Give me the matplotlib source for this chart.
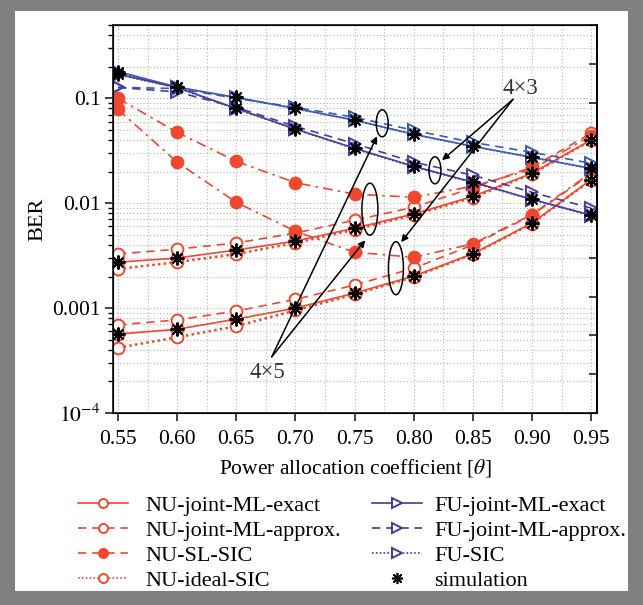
import numpy as np
import matplotlib
matplotlib.use("Agg")
import matplotlib.pyplot as plt
from matplotlib.patches import Rectangle, Ellipse
from matplotlib.lines import Line2D
from matplotlib.ticker import NullFormatter, MultipleLocator, LogLocator
from matplotlib.transforms import ScaledTranslation

plt.rcParams['font.family'] = ['Liberation Serif', 'DejaVu Serif']
plt.rcParams['mathtext.fontset'] = 'stix'

# ---------------- data ----------------
theta = [0.55, 0.60, 0.65, 0.70, 0.75, 0.80, 0.85, 0.90, 0.95]

# 4x5 configuration
nu_exact_45 = [0.00274, 0.00300, 0.00358, 0.00435, 0.00578, 0.0079, 0.0116, 0.0193, 0.040]
nu_approx_45 = [0.00328, 0.00365, 0.00418, 0.00519, 0.00689, 0.00915, 0.0140, 0.0220, 0.0464]
nu_sl_45 = [0.100, 0.0474, 0.0251, 0.0157, 0.0122, 0.0114, 0.0145, 0.0210, 0.0440]
nu_ideal_45 = [0.00236, 0.00274, 0.00328, 0.00418, 0.0056, 0.0077, 0.0113, 0.0190, 0.0398]
fu_exact_45 = [0.180, 0.128, 0.102, 0.080, 0.062, 0.0454, 0.0349, 0.0274, 0.0215]
fu_approx_45 = [0.127, 0.124, 0.100, 0.082, 0.066, 0.0496, 0.038, 0.0306, 0.024]
fu_sic_45 = [0.178, 0.127, 0.101, 0.080, 0.0615, 0.0452, 0.0347, 0.0272, 0.0213]

# 4x3 configuration
nu_exact_43 = [0.000565, 0.000628, 0.000785, 0.00100, 0.00139, 0.00202, 0.00330, 0.00646, 0.0168]
nu_approx_43 = [0.000692, 0.000771, 0.000938, 0.00121, 0.00166, 0.0024, 0.0040, 0.0077, 0.0190]
nu_sl_43 = [0.0786, 0.0246, 0.0102, 0.0054, 0.00341, 0.00305, 0.00410, 0.0078, 0.0195]
nu_ideal_43 = [0.000419, 0.000527, 0.000672, 0.00095, 0.00135, 0.00198, 0.00325, 0.0064, 0.0166]
fu_exact_43 = [0.170, 0.127, 0.080, 0.051, 0.0334, 0.0225, 0.0159, 0.0109, 0.0077]
fu_approx_43 = [0.127, 0.115, 0.082, 0.054, 0.037, 0.0246, 0.0185, 0.0127, 0.0090]
fu_sic_43 = [0.168, 0.126, 0.079, 0.0505, 0.033, 0.0222, 0.0157, 0.0108, 0.0076]

xticks = [0.55, 0.60, 0.65, 0.70, 0.75, 0.80, 0.85, 0.90, 0.95]
xticklabels = ['0.55', '0.60', '0.65', '0.70', '0.75', '0.80', '0.85', '0.90', '0.95']
yticks = [1e-4, 1e-3, 1e-2, 1e-1]
yticklabels = [r'$10^{-4}$', '0.001', '0.01', '0.1']

legend_labels_nu = ['NU-joint-ML-exact', 'NU-joint-ML-approx.', 'NU-SL-SIC', 'NU-ideal-SIC']
legend_labels_fu = ['FU-joint-ML-exact', 'FU-joint-ML-approx.', 'FU-SIC', 'simulation']

# ---------------- styles ----------------
RED = '#F0482E'
BLUE_A = '#3D5CB0'
BLUE_B = '#4A3C9E'
BLUE_L = '#3E3A9C'
LS_EXACT = '-'
LS_APPROX = (0, (5, 3.5))
LS_SL = (0, (6, 3, 1.5, 3))
LS_IDEAL = (0, (1, 1.3))
XLIM = (0.5458, 0.955)
YLIM = (1e-4, 0.5)

fig = plt.figure(figsize=(6.43, 6.05), dpi=100)
fig.patch.set_facecolor('#808080')
fig.add_artist(Rectangle((15 / 643, 14 / 605), 613 / 643, 580 / 605, transform=fig.transFigure,
                         facecolor='white', edgecolor='none', zorder=-10))

ax = fig.add_axes([113 / 643, 1 - 413 / 605, 484 / 643, 388 / 605])
ax.set_yscale('log')
ax.set_xlim(*XLIM)
ax.set_ylim(*YLIM)

lw = 1.2
msz = 8.5
mew = 1.4


def nu_lines(exact, approx, sl, ideal):
    ax.plot(theta, exact, color=RED, ls=LS_EXACT, lw=lw, marker='o', ms=msz, mfc='white', mec=RED, mew=mew, zorder=3)
    ax.plot(theta, approx, color=RED, ls=LS_APPROX, lw=lw, marker='o', ms=msz, mfc='white', mec=RED, mew=mew, zorder=3)
    ax.plot(theta, sl, color=RED, ls=LS_SL, lw=lw, marker='o', ms=msz, mfc=RED, mec=RED, mew=mew, zorder=3)
    ax.plot(theta, ideal, color=RED, ls=LS_IDEAL, lw=lw + 0.6, marker='o', ms=msz, mfc='white', mec=RED, mew=mew, zorder=3)


def fu_lines(exact, approx, sic, col):
    ax.plot(theta, exact, color=col, ls=LS_EXACT, lw=lw, marker='>', ms=msz, mfc='none', mec=col, mew=mew, zorder=3)
    ax.plot(theta, approx, color=col, ls=LS_APPROX, lw=lw, marker='>', ms=msz, mfc='none', mec=col, mew=mew, zorder=3)
    ax.plot(theta, sic, color=col, ls=LS_IDEAL, lw=lw, marker='>', ms=msz, mfc='none', mec=col, mew=mew, zorder=3)


nu_lines(nu_exact_45, nu_approx_45, nu_sl_45, nu_ideal_45)
nu_lines(nu_exact_43, nu_approx_43, nu_sl_43, nu_ideal_43)
fu_lines(fu_exact_45, fu_approx_45, fu_sic_45, BLUE_A)
fu_lines(fu_exact_43, fu_approx_43, fu_sic_43, BLUE_B)

STAR = (8, 2, 0)
for s in [nu_exact_45, nu_exact_43, fu_exact_45, fu_exact_43]:
    ax.plot(theta, s, ls='none', marker=STAR, ms=10, mec='black', mew=1.4, zorder=5)

# ---------------- axes styling ----------------
ax.set_xticks(xticks)
ax.set_xticklabels(xticklabels)
ax.xaxis.set_minor_locator(MultipleLocator(0.025))
ax.set_yticks(yticks)
ax.set_yticklabels(yticklabels)
ax.yaxis.set_minor_locator(LogLocator(base=10, subs=np.arange(2, 10)))
ax.yaxis.set_minor_formatter(NullFormatter())
ax.tick_params(axis='both', which='major', labelsize=15.5, direction='out', length=6, width=1.2, color='#222222')
ax.tick_params(axis='y', which='minor', direction='out', length=3.5, width=1.0)
ax.tick_params(axis='x', which='minor', length=0)
ax.tick_params(axis='x', which='major', pad=6)
ax.tick_params(axis='y', which='major', pad=3)
ax.grid(True, which='both', ls=(0, (1, 2)), color='#b5b5b5', lw=0.8)
ax.set_axisbelow(True)
for sp in ax.spines.values():
    sp.set_linewidth(1.3)
    sp.set_color('#222222')
ax.set_xlabel(r'Power allocation coefficient [$\theta$]', fontsize=15.5, labelpad=6)
ax.set_ylabel('BER', fontsize=16, labelpad=3)

# right-side inward ticks (linear divisions)
ax2 = ax.twinx()
ax2.set_ylim(0, 10)
ax2.set_yticks(np.arange(0, 11))
ax2.set_yticklabels([])
ax2.tick_params(axis='y', direction='in', length=6, width=1.2, color='#222222')
ax2.spines['right'].set_linewidth(1.3)

# ---------------- annotations ----------------
def to_axfrac(x, y):
    fx = (x - XLIM[0]) / (XLIM[1] - XLIM[0])
    fy = (np.log10(y) - np.log10(YLIM[0])) / (np.log10(YLIM[1]) - np.log10(YLIM[0]))
    return fx, fy


def ellipse(x, y, wpx, hpx):
    fx, fy = to_axfrac(x, y)
    tr = fig.dpi_scale_trans + ScaledTranslation(fx, fy, ax.transAxes)
    ax.add_artist(Ellipse((0, 0), wpx / 100, hpx / 100, transform=tr, fill=False,
                          ec='black', lw=1.1, zorder=6))


ellipse(0.7734, 0.0578, 12, 27)
ellipse(0.818, 0.0206, 12, 27)
ellipse(0.763, 0.00877, 16, 52)
ellipse(0.785, 0.00240, 15, 53)

arrow = dict(arrowstyle='-|>', color='black', lw=1.1, mutation_scale=10, shrinkA=0, shrinkB=0)
ax.annotate('', xy=(0.824, 0.0257), xytext=(0.884, 0.0978), arrowprops=arrow, zorder=6)
ax.annotate('', xy=(0.7894, 0.00425), xytext=(0.884, 0.0978), arrowprops=arrow, zorder=6)
ax.annotate('', xy=(0.769, 0.0435), xytext=(0.680, 3.43e-4), arrowprops=arrow, zorder=6)
ax.annotate('', xy=(0.759, 0.00444), xytext=(0.680, 3.43e-4), arrowprops=arrow, zorder=6)
ax.text(0.890, 0.1245, '4×3', fontsize=16.5, color='#333333', ha='center', va='center', zorder=7)
ax.text(0.676, 2.45e-4, '4×5', fontsize=16.5, color='#333333', ha='center', va='center', zorder=7)

# ---------------- legend ----------------
lms = 6.5
handles_nu = [
    Line2D([], [], color=RED, ls=LS_EXACT, lw=lw, marker='o', ms=lms, mfc='white', mec=RED, mew=mew),
    Line2D([], [], color=RED, ls=LS_APPROX, lw=lw, marker='o', ms=lms, mfc='white', mec=RED, mew=mew),
    Line2D([], [], color=RED, ls=LS_APPROX, lw=lw, marker='o', ms=lms, mfc=RED, mec=RED, mew=mew),
    Line2D([], [], color=RED, ls=LS_IDEAL, lw=lw, marker='o', ms=lms, mfc='white', mec=RED, mew=mew),
]
handles_fu = [
    Line2D([], [], color=BLUE_L, ls=LS_EXACT, lw=lw, marker='>', ms=lms + 1, mfc='white', mec=BLUE_L, mew=mew),
    Line2D([], [], color=BLUE_L, ls=LS_APPROX, lw=lw, marker='>', ms=lms + 1, mfc='white', mec=BLUE_L, mew=mew),
    Line2D([], [], color=BLUE_L, ls=LS_IDEAL, lw=lw, marker='>', ms=lms + 1, mfc='white', mec=BLUE_L, mew=mew),
    Line2D([], [], color='black', ls='none', marker=STAR, ms=8, mec='black', mew=1.2),
]
common = dict(loc='upper left', frameon=False, fontsize=16, handlelength=2.25,
              labelspacing=0.2, borderpad=0, borderaxespad=0)
leg1 = fig.legend(handles_nu, legend_labels_nu, bbox_to_anchor=(78 / 643, 1 - 495 / 605),
                  handletextpad=0.8, **common)
leg2 = fig.legend(handles_fu, legend_labels_fu, bbox_to_anchor=(372 / 643, 1 - 495 / 605),
                  handletextpad=0.55, **common)

fig.savefig('out.png', dpi=100, facecolor=fig.get_facecolor())
